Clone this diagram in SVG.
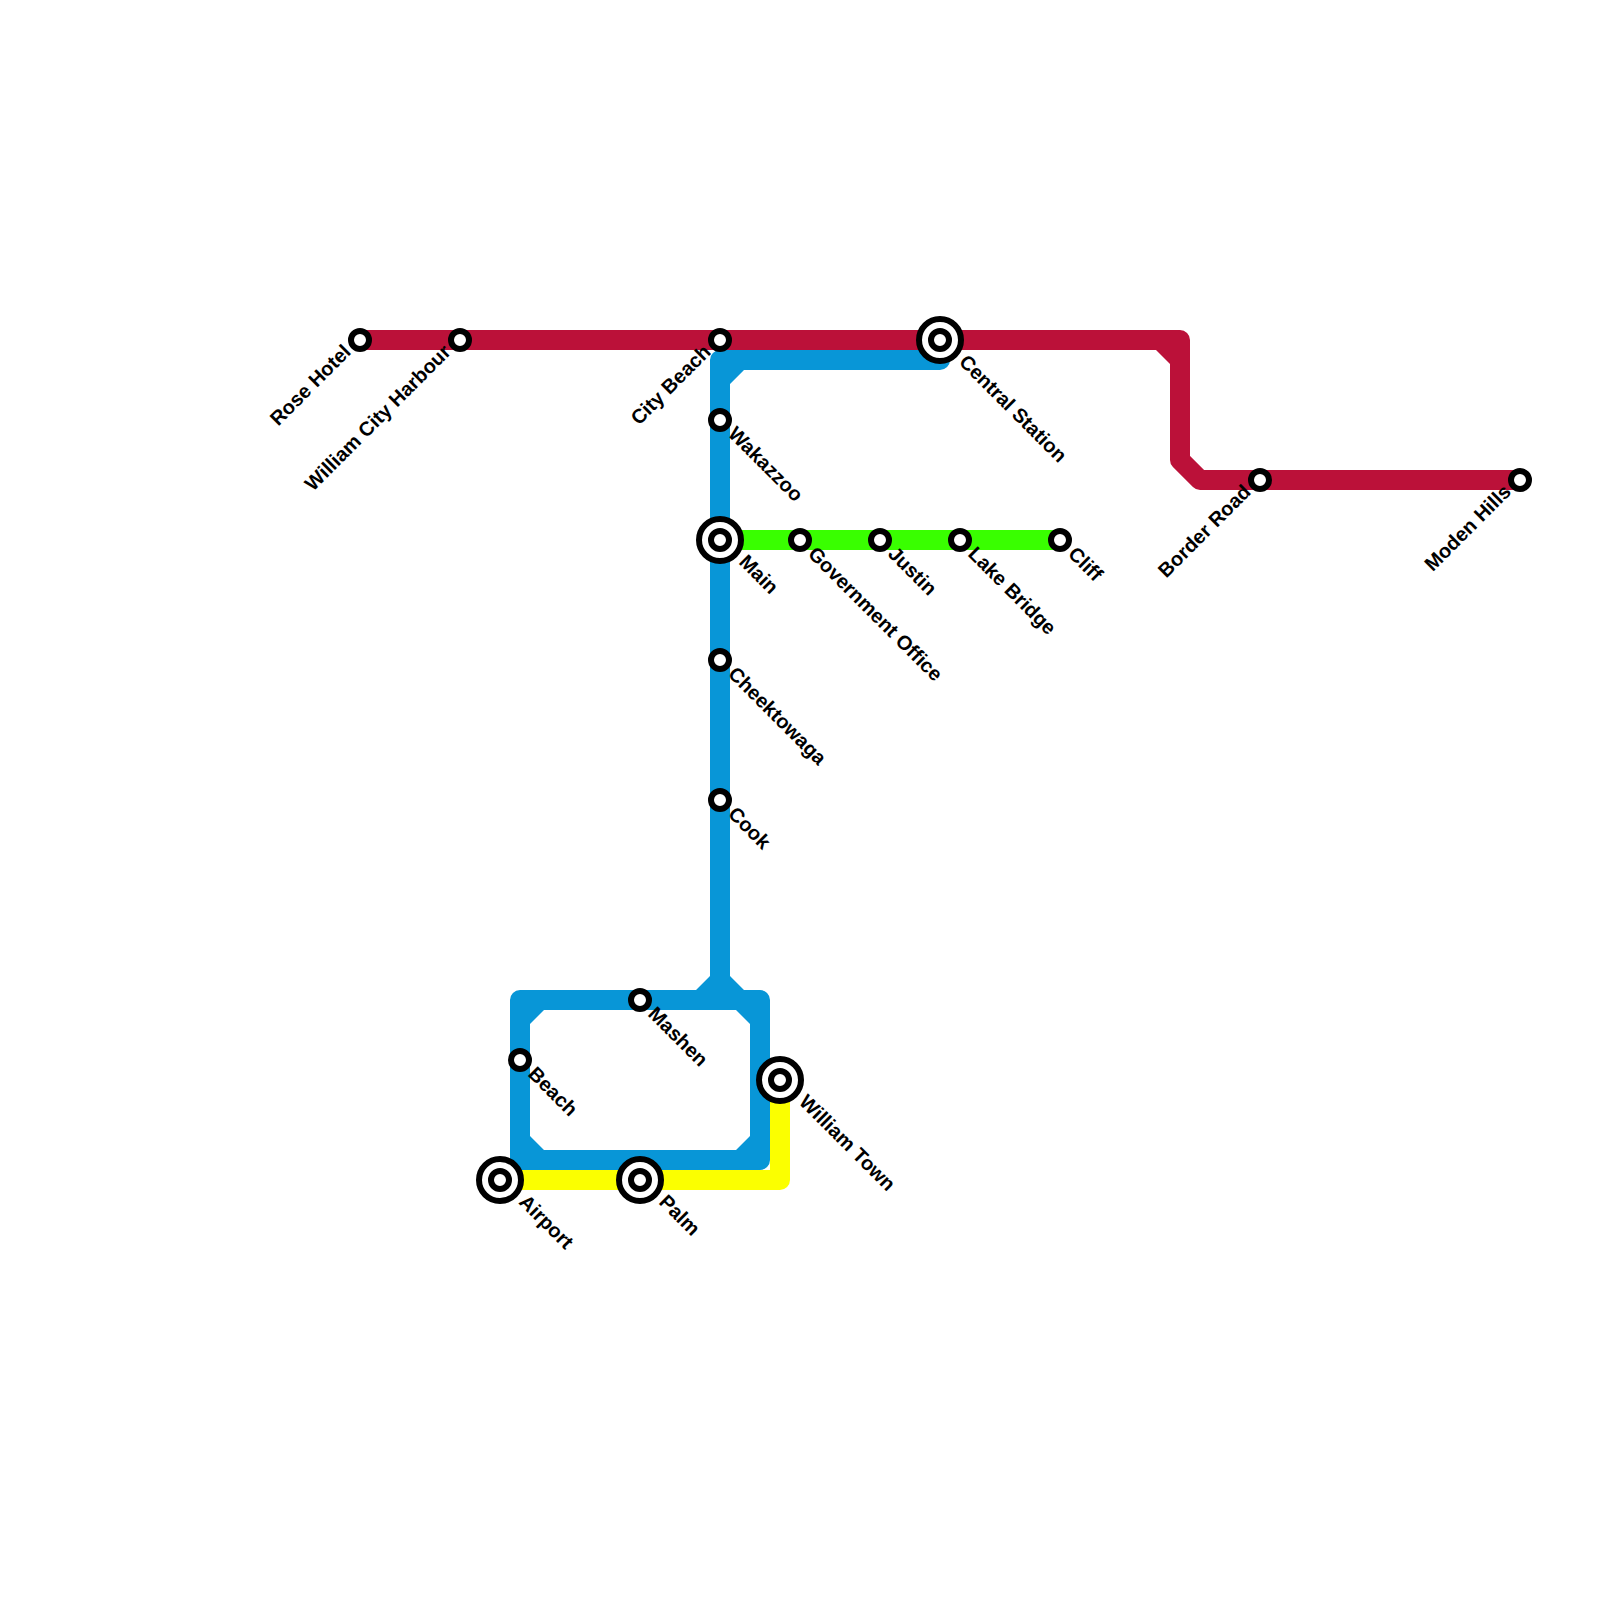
<svg xmlns="http://www.w3.org/2000/svg" width="1600" height="1600" viewBox="0 0 1600 1600">
<style>
.l{fill:none;stroke-width:20;stroke-linejoin:round;stroke-linecap:round}
.red{stroke:#bb1139}.blue{stroke:#0896d7}.green{stroke:#39ff00}.yellow{stroke:#fbff00}
.f-red{fill:#bb1139}.f-blue{fill:#0896d7}
.s{fill:#fff;stroke:#000;stroke-width:6}
.x{fill:#fff;stroke:#000;stroke-width:6}
text{font-family:"Liberation Sans",Arial,sans-serif;font-size:20px;font-weight:700;fill:#000;text-rendering:geometricPrecision}
.e{text-anchor:end}
</style>
<rect width="1600" height="1600" fill="#fff"/>
<g id="connectors">
<path class="l yellow" d="M500 1180H780V1080"/>
<path class="l green" d="M720 540H1060"/>
<path class="l blue" d="M940 360H720V980"/>
<path class="l blue" d="M520 1000H760V1160H520Z"/>
<path class="f-blue" d="M530 1010h14l-14 14zM530 1150h14l-14-14zM750 1010h-14l14 14zM750 1150h-14l14-14zM730 370h14l-14 14zM696 990L710 976V950H730V976L744 990Z"/>
<path class="l red" d="M360 340H1180V460L1200 480H1520"/>
<path class="f-red" d="M1156 350h14v14z"/>
</g>
<g id="rose-hotel"><circle class="s" cx="360" cy="340" r="9"/><text class="e" transform="translate(352 353) rotate(-45)">Rose Hotel</text></g>
<g id="william-city-harbour"><circle class="s" cx="460" cy="340" r="9"/><text class="e" transform="translate(452 353) rotate(-45)">William City Harbour</text></g>
<g id="city-beach"><circle class="s" cx="720" cy="340" r="9"/><text class="e" transform="translate(712 353) rotate(-45)">City Beach</text></g>
<g id="central-station"><circle class="x" cx="940" cy="340" r="21"/><circle class="s" cx="940" cy="340" r="9"/><text transform="translate(958 363) rotate(45)">Central Station</text></g>
<g id="border-road"><circle class="s" cx="1260" cy="480" r="9"/><text class="e" transform="translate(1252 493) rotate(-45)">Border Road</text></g>
<g id="moden-hills"><circle class="s" cx="1520" cy="480" r="9"/><text class="e" transform="translate(1512 493) rotate(-45)">Moden Hills</text></g>
<g id="wakazzoo"><circle class="s" cx="720" cy="420" r="9"/><text transform="translate(727 435) rotate(45)">Wakazzoo</text></g>
<g id="main"><circle class="x" cx="720" cy="540" r="21"/><circle class="s" cx="720" cy="540" r="9"/><text transform="translate(738 563) rotate(45)">Main</text></g>
<g id="government-office"><circle class="s" cx="800" cy="540" r="9"/><text transform="translate(807 555) rotate(45)">Government Office</text></g>
<g id="justin"><circle class="s" cx="880" cy="540" r="9"/><text transform="translate(887 555) rotate(45)">Justin</text></g>
<g id="lake-bridge"><circle class="s" cx="960" cy="540" r="9"/><text transform="translate(967 555) rotate(45)">Lake Bridge</text></g>
<g id="cliff"><circle class="s" cx="1060" cy="540" r="9"/><text transform="translate(1067 555) rotate(45)">Cliff</text></g>
<g id="cheektowaga"><circle class="s" cx="720" cy="660" r="9"/><text transform="translate(727 675) rotate(45)">Cheektowaga</text></g>
<g id="cook"><circle class="s" cx="720" cy="800" r="9"/><text transform="translate(727 815) rotate(45)">Cook</text></g>
<g id="mashen"><circle class="s" cx="640" cy="1000" r="9"/><text transform="translate(647 1015) rotate(45)">Mashen</text></g>
<g id="beach"><circle class="s" cx="520" cy="1060" r="9"/><text transform="translate(527 1075) rotate(45)">Beach</text></g>
<g id="william-town"><circle class="x" cx="780" cy="1080" r="21"/><circle class="s" cx="780" cy="1080" r="9"/><text transform="translate(798 1103) rotate(45)">William Town</text></g>
<g id="airport"><circle class="x" cx="500" cy="1180" r="21"/><circle class="s" cx="500" cy="1180" r="9"/><text transform="translate(518 1203) rotate(45)">Airport</text></g>
<g id="palm"><circle class="x" cx="640" cy="1180" r="21"/><circle class="s" cx="640" cy="1180" r="9"/><text transform="translate(658 1203) rotate(45)">Palm</text></g>
</svg>
